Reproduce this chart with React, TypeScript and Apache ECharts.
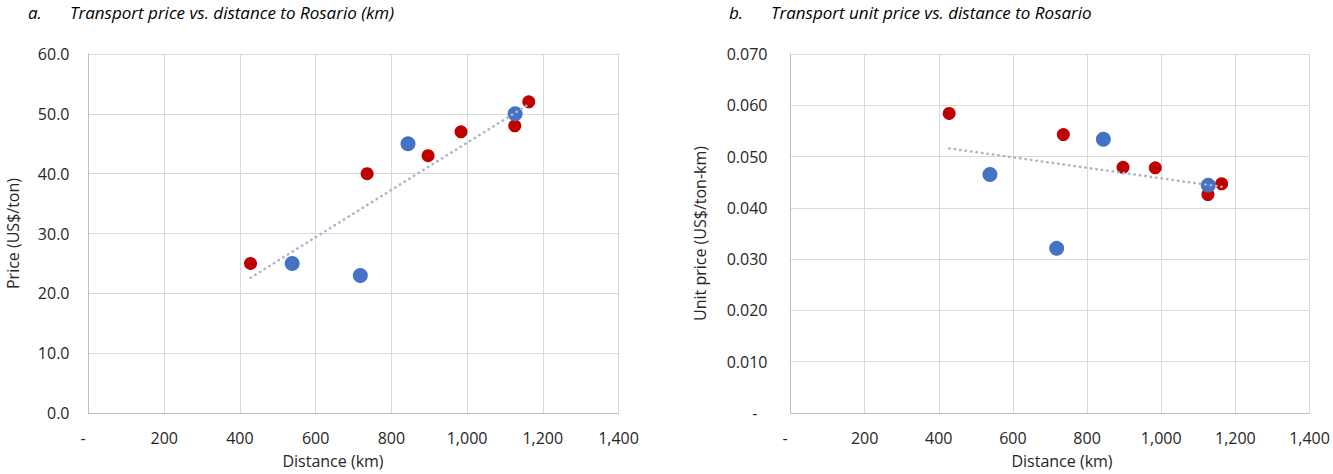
import React, { useEffect, useRef } from "react";
import * as echarts from "echarts";

// Distances (km) and prices (US$/ton)
const redDistance = [428, 736, 897, 984, 1126, 1163];
const redPrice = [25, 40, 43, 47, 48, 52];
const redUnitPrice = [0.0584, 0.0543, 0.0479, 0.0478, 0.0426, 0.0447];

const blueDistance = [538, 718, 844, 1127];
const bluePrice = [25, 23, 45, 50];
const blueUnitPrice = [0.0465, 0.0321, 0.0534, 0.0444];

// Trendline end points
const trendDistance = [428, 1163];
const trendPrice = [22.6, 51.6];
const trendUnitPrice = [0.0516, 0.0441];

const xTicks = [0, 200, 400, 600, 800, 1000, 1200, 1400];

const FONT = "'Open Sans', 'Noto Sans', sans-serif";
const TEXT = "#262626";
const RED = "#C00000";
const BLUE = "#4472C4";
const TREND = "#A9B5CB";

const zip = (xs: number[], ys: number[]) => xs.map((x, i) => [x, ys[i]]);

const xFmt = (v: number) => (v === 0 ? "{d|-}" : v.toLocaleString("en-US"));

function makeX(gridIndex: number, nameShift: number[]) {
  return {
    type: "value",
    gridIndex,
    min: xTicks[0],
    max: xTicks[xTicks.length - 1],
    interval: 200,
    name: "Distance (km)",
    nameLocation: "middle",
    nameGap: 40,
    nameTextStyle: { color: TEXT, fontFamily: FONT, fontSize: 16, padding: nameShift },
    axisLine: { show: true, lineStyle: { color: "#BFBFBF", width: 1 } },
    axisTick: { show: false },
    axisLabel: {
      color: TEXT,
      fontFamily: FONT,
      fontSize: 16,
      margin: 17,
      formatter: xFmt,
      rich: { d: { color: TEXT, fontFamily: FONT, fontSize: 16, padding: [0, 11, 0, 0] } },
    },
    splitLine: { show: true, lineStyle: { color: "#D9D9D9", width: 1 } },
  };
}

export default function App() {
  const ref = useRef<HTMLDivElement>(null);
  useEffect(() => {
    document.body.style.margin = "0";
    const chart = echarts.init(ref.current!, undefined, { renderer: "svg" });
    const titleFont = `italic 17px ${FONT}`;
    const option = {
      animation: false,
      backgroundColor: "#FFFFFF",
      grid: [
        { left: 88.5, top: 54, width: 530, height: 359.5 },
        { left: 790.5, top: 54, width: 519, height: 360 },
      ],
      xAxis: [makeX(0, [0, 41, 0, 0]), makeX(1, [0, 0, 0, 24])],
      yAxis: [
        {
          type: "value",
          gridIndex: 0,
          min: 0,
          max: 60,
          interval: 10,
          name: "Price (US$/ton)",
          nameLocation: "middle",
          nameGap: 68,
          nameTextStyle: { color: TEXT, fontFamily: FONT, fontSize: 16 },
          axisLine: { show: true, lineStyle: { color: "#BFBFBF", width: 1 } },
          axisTick: { show: false },
          axisLabel: {
            color: TEXT,
            fontFamily: FONT,
            fontSize: 16,
            margin: 19,
            formatter: (v: number) => v.toFixed(1),
          },
          splitLine: { show: true, lineStyle: { color: "#D9D9D9", width: 1 } },
        },
        {
          type: "value",
          gridIndex: 1,
          min: 0,
          max: 0.07,
          interval: 0.01,
          name: "Unit price (US$/ton-km)",
          nameLocation: "middle",
          nameGap: 83,
          nameTextStyle: { color: TEXT, fontFamily: FONT, fontSize: 16 },
          axisLine: { show: true, lineStyle: { color: "#BFBFBF", width: 1 } },
          axisTick: { show: false },
          axisLabel: {
            color: TEXT,
            fontFamily: FONT,
            fontSize: 16,
            margin: 23,
            formatter: (v: number) => (Math.abs(v) < 1e-9 ? "{d|-}" : v.toFixed(3)),
            rich: { d: { color: TEXT, fontFamily: FONT, fontSize: 16, padding: [0, 10, 0, 0] } },
          },
          splitLine: { show: true, lineStyle: { color: "#D9D9D9", width: 1 } },
        },
      ],
      graphic: [
        { type: "text", left: 28, top: 4, style: { text: "a.", font: titleFont, fill: "#000" } },
        {
          type: "text",
          left: 70,
          top: 4,
          style: { text: "Transport price vs. distance to Rosario (km)", font: titleFont, fill: "#000" },
        },
        { type: "text", left: 729, top: 4, style: { text: "b.", font: titleFont, fill: "#000" } },
        {
          type: "text",
          left: 771,
          top: 4,
          style: { text: "Transport unit price vs. distance to Rosario", font: titleFont, fill: "#000" },
        },
      ],
      series: [
        {
          name: "Red",
          type: "scatter",
          xAxisIndex: 0,
          yAxisIndex: 0,
          symbolSize: 13,
          itemStyle: { color: RED, opacity: 1 },
          data: zip(redDistance, redPrice),
        },
        {
          name: "Blue",
          type: "scatter",
          xAxisIndex: 0,
          yAxisIndex: 0,
          symbolSize: 15,
          itemStyle: { color: BLUE, opacity: 1 },
          data: zip(blueDistance, bluePrice),
        },
        {
          name: "Trend a",
          type: "line",
          xAxisIndex: 0,
          yAxisIndex: 0,
          showSymbol: false,
          symbol: "none",
          lineStyle: { color: TREND, width: 2.5, type: [0.5, 5], cap: "round" },
          data: zip(trendDistance, trendPrice),
          z: 3,
        },
        {
          name: "Red unit",
          type: "scatter",
          xAxisIndex: 1,
          yAxisIndex: 1,
          symbolSize: 13,
          itemStyle: { color: RED, opacity: 1 },
          data: zip(redDistance, redUnitPrice),
        },
        {
          name: "Blue unit",
          type: "scatter",
          xAxisIndex: 1,
          yAxisIndex: 1,
          symbolSize: 15,
          itemStyle: { color: BLUE, opacity: 1 },
          data: zip(blueDistance, blueUnitPrice),
        },
        {
          name: "Trend b",
          type: "line",
          xAxisIndex: 1,
          yAxisIndex: 1,
          showSymbol: false,
          symbol: "none",
          lineStyle: { color: TREND, width: 2.5, type: [0.5, 5], cap: "round" },
          data: zip(trendDistance, trendUnitPrice),
          z: 3,
        },
      ],
    };
    chart.setOption(option as any);
    return () => chart.dispose();
  }, []);
  return <div ref={ref} style={{ width: 1333, height: 474 }} />;
}
